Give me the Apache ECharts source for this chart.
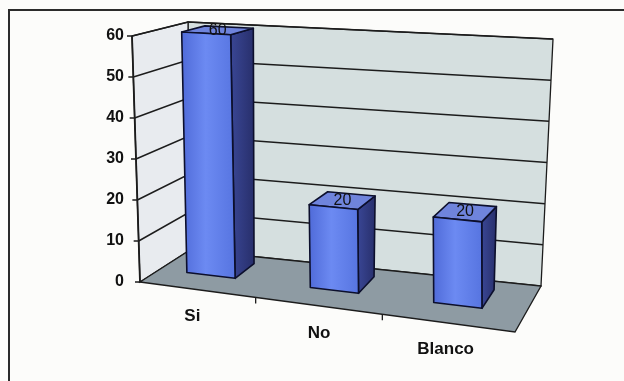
<!DOCTYPE html>
<html>
<head>
<meta charset="utf-8">
<script src="https://cdn.jsdelivr.net/npm/echarts@6/dist/echarts.min.js"></script>
<style>
html, body { margin: 0; padding: 0; background: #fcfcfa; }
#chart { width: 624px; height: 381px; }
</style>
</head>
<body>
<div id="chart"></div>
<script>
const categories = ['Si', 'No', 'Blanco'];
const values = [60, 20, 20];
const yTicks = [0, 10, 20, 30, 40, 50, 60];

// corners of the skewed 3D box as it sits in the scan (front plane / back plane)
const FRONT = { l0: [140, 282], l1: [132, 36], r0: [515, 332], r1: [507, 60] };
const BACK = { l0: [190, 250], l1: [188, 22], r0: [541, 286], r1: [553, 39] };
const LINE = '#1c1c1c';

function lerp(a, b, t) { return [a[0] + (b[0] - a[0]) * t, a[1] + (b[1] - a[1]) * t]; }
function plane(p, u, v) { return lerp(lerp(p.l0, p.l1, v), lerp(p.r0, p.r1, v), u); }
function proj(u, v, w) { return lerp(plane(FRONT, u, v), plane(BACK, u, v), w); }

// pixel from the axes -> normalized u (along the floor front edge) / v (value)
function uOf(px) { return (px - FRONT.l0[0]) / (FRONT.r0[0] - FRONT.l0[0]); }
function vOf(cs, py) { return (cs.y + cs.height - py) / cs.height; }

function renderBox(params, api) {
    const cs = params.coordSys;
    const kids = [];
    const poly = (pts, fill) => kids.push({ type: 'polygon', shape: { points: pts }, style: { fill: fill, stroke: LINE, lineWidth: 1.3 } });
    poly([proj(0, 0, 1), proj(0, 1, 1), proj(1, 1, 1), proj(1, 0, 1)], '#d5dfdf');
    poly([proj(0, 0, 0), proj(0, 1, 0), proj(0, 1, 1), proj(0, 0, 1)], '#e8ebef');
    poly([proj(0, 0, 0), proj(1, 0, 0), proj(1, 0, 1), proj(0, 0, 1)], '#8e9ba3');
    yTicks.forEach(t => {
        const v = vOf(cs, api.coord([0, t])[1]);
        if (t > 0) kids.push({ type: 'polyline', shape: { points: [proj(0, v, 0), proj(0, v, 1), proj(1, v, 1)] }, style: { stroke: LINE, lineWidth: 1.5, fill: null } });
        const p = proj(0, v, 0);
        kids.push({ type: 'line', shape: { x1: p[0] - 5, y1: p[1], x2: p[0], y2: p[1] }, style: { stroke: LINE, lineWidth: 1.5 } });
    });
    const a0 = proj(0, 0, 0), a1 = proj(0, 1, 0);
    kids.push({ type: 'line', shape: { x1: a0[0], y1: a0[1], x2: a1[0], y2: a1[1] }, style: { stroke: LINE, lineWidth: 1.8 } });
    // ticks between categories on the front floor edge
    for (let i = 1; i < categories.length; i++) {
        const px = (api.coord([i - 1, 0])[0] + api.coord([i, 0])[0]) / 2;
        const p = proj(uOf(px), 0, 0);
        kids.push({ type: 'line', shape: { x1: p[0], y1: p[1], x2: p[0], y2: p[1] + 6 }, style: { stroke: LINE, lineWidth: 1.3 } });
    }
    categories.forEach((c, i) => {
        const p = proj(uOf(api.coord([i, 0])[0]), 0, 0);
        kids.push({ type: 'text', x: p[0], y: p[1] + 27, style: { text: c, fill: '#111', font: 'bold 17px "Liberation Sans", Arial', align: 'center', verticalAlign: 'middle' } });
    });
    return { type: 'group', children: kids };
}

function renderBar(params, api) {
    const cs = params.coordSys;
    const u = uOf(api.coord([api.value(0), 0])[0]);
    const v = vOf(cs, api.coord([api.value(0), api.value(1)])[1]);
    const h = 0.066, w0 = 0.4, w1 = 0.82;
    const st = fill => ({ fill: fill, stroke: '#0c0f2c', lineWidth: 1.6, lineJoin: 'round' });
    const top = proj(u, v, (w0 + w1) / 2);
    return {
        type: 'group',
        children: [
            { type: 'polygon', shape: { points: [proj(u + h, 0, w0), proj(u + h, 0, w1), proj(u + h, v, w1), proj(u + h, v, w0)] },
              style: st({ type: 'linear', x: 0, y: 0, x2: 1, y2: 0, colorStops: [{ offset: 0, color: '#3a4796' }, { offset: 1, color: '#272e6a' }] }) },
            { type: 'polygon', shape: { points: [proj(u - h, v, w0), proj(u + h, v, w0), proj(u + h, v, w1), proj(u - h, v, w1)] },
              style: st('#6f84dc') },
            { type: 'polygon', shape: { points: [proj(u - h, 0, w0), proj(u + h, 0, w0), proj(u + h, v, w0), proj(u - h, v, w0)] },
              style: st({ type: 'linear', x: 0, y: 0, x2: 1, y2: 0, colorStops: [{ offset: 0, color: '#4f6ad8' }, { offset: 0.45, color: '#6c8af2' }, { offset: 1, color: '#5674e0' }] }) },
            { type: 'text', x: top[0], y: top[1], style: { text: String(api.value(1)), fill: '#111', font: '16px "Liberation Sans", Arial', align: 'center', verticalAlign: 'middle' } }
        ]
    };
}

const chart = echarts.init(document.getElementById('chart'));
chart.setOption({
    animation: false,
    graphic: [{ type: 'polyline', shape: { points: [[9, 381], [9, 10], [624, 10]] }, style: { stroke: '#2b2b2b', lineWidth: 2, fill: null } }],
    grid: { left: 129, top: 36, width: 380, bottom: 99 },
    xAxis: { type: 'category', data: categories, show: false },
    yAxis: {
        type: 'value', min: 0, max: 60, interval: 10,
        axisLine: { show: false }, axisTick: { show: false }, splitLine: { show: false },
        axisLabel: { color: '#111', fontWeight: 'bold', fontSize: 16, fontFamily: 'Liberation Sans', margin: 5 }
    },
    series: [
        { type: 'custom', renderItem: renderBox, data: [[0, 0]], z: 1, silent: true },
        { type: 'custom', renderItem: renderBar, data: values.map((v, i) => [i, v]), z: 2 }
    ]
});
</script>
</body>
</html>
